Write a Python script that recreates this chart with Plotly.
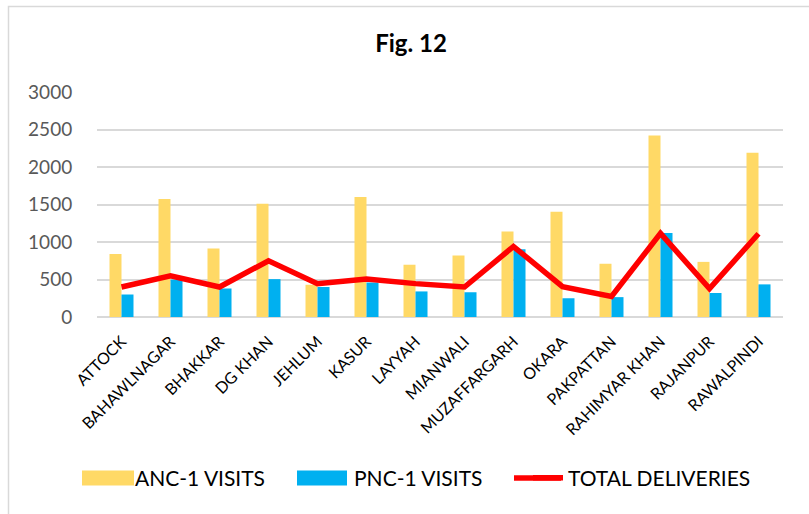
import plotly.graph_objects as go

districts = ["ATTOCK", "BAHAWLNAGAR", "BHAKKAR", "DG KHAN", "JEHLUM", "KASUR", "LAYYAH",
             "MIANWALI", "MUZAFFARGARH", "OKARA", "PAKPATTAN", "RAHIMYAR KHAN", "RAJANPUR", "RAWALPINDI"]
anc1_visits = [840, 1575, 915, 1510, 430, 1600, 697, 820, 1140, 1405, 710, 2420, 735, 2190]
pnc1_visits = [300, 500, 380, 505, 400, 460, 341, 330, 905, 250, 265, 1120, 320, 435]
total_deliveries = [400, 550, 400, 750, 443, 505, 445, 400, 940, 405, 275, 1115, 380, 1110]
y_ticks = [0, 500, 1000, 1500, 2000, 2500, 3000]

FONT = "Lato"
ANC_COLOR = "#FFD966"
PNC_COLOR = "#00B0F0"
LINE_COLOR = "#FF0000"

fig = go.Figure()
fig.add_trace(go.Bar(x=districts, y=anc1_visits, name="ANC-1 VISITS", marker_color=ANC_COLOR,
                     marker_line_width=0, legend="legend"))
fig.add_trace(go.Bar(x=districts, y=pnc1_visits, name="PNC-1 VISITS", marker_color=PNC_COLOR,
                     marker_line_width=0, legend="legend2"))
fig.add_trace(go.Scatter(x=districts, y=total_deliveries, name="TOTAL DELIVERIES", mode="lines",
                         line=dict(color=LINE_COLOR, width=5.5), legend="legend3"))

W, H = 809, 514
L, R, T, B = 97, 26, 92, 197
pw, ph = W - L - R, H - T - B


def px_x(px):
    return (px - L) / pw


def px_y(py):
    return (H - B - py) / ph


LEG_Y = 478
shapes = [
    dict(type="rect", xref="paper", yref="paper",
         x0=px_x(8.5), x1=px_x(W + 20), y0=px_y(6.5), y1=px_y(H + 20),
         line=dict(color="#D9D9D9", width=1.5), fillcolor="rgba(0,0,0,0)", layer="below"),
    # legend swatches (enlarged to match the reference key)
    dict(type="rect", xref="paper", yref="paper", x0=px_x(82), x1=px_x(134),
         y0=px_y(LEG_Y - 7.5), y1=px_y(LEG_Y + 7.5), line=dict(width=0), fillcolor=ANC_COLOR, layer="above"),
    dict(type="rect", xref="paper", yref="paper", x0=px_x(297), x1=px_x(347),
         y0=px_y(LEG_Y - 7.5), y1=px_y(LEG_Y + 7.5), line=dict(width=0), fillcolor=PNC_COLOR, layer="above"),
    dict(type="line", xref="paper", yref="paper", x0=px_x(514), x1=px_x(561),
         y0=px_y(LEG_Y), y1=px_y(LEG_Y), line=dict(color=LINE_COLOR, width=5.5), layer="above"),
]


def legend_at(text_start_px):
    return dict(orientation="h", xref="container", yref="container",
                x=(text_start_px - 41) / W, xanchor="left", y=1 - LEG_Y / H, yanchor="middle",
                font=dict(family=FONT, size=21, color="#000000"), bgcolor="rgba(0,0,0,0)")


fig.update_layout(
    width=W, height=H,
    margin=dict(l=L, r=R, t=T, b=B, autoexpand=False),
    paper_bgcolor="white", plot_bgcolor="white",
    barmode="group", bargap=0.51, bargroupgap=0,
    font=dict(family=FONT, color="#000000"),
    title=dict(text="<b>Fig. 12</b>", x=411 / W, xanchor="center", y=1 - 44 / H, yanchor="middle",
               font=dict(family=FONT, size=24, color="#000000")),
    legend=legend_at(136),
    legend2=legend_at(355),
    legend3=legend_at(569),
    showlegend=True,
    xaxis=dict(tickangle=-45, tickfont=dict(family=FONT, size=16, color="#000000"), showgrid=False,
               showline=False, ticks="outside", ticklen=8, tickcolor="rgba(0,0,0,0)", automargin=False),
    yaxis=dict(range=[0, 3000], tickvals=y_ticks, tickfont=dict(family=FONT, size=19, color="#595959"),
               showgrid=True, gridcolor="#D9D9D9", gridwidth=1.5, zeroline=True, zerolinecolor="#D9D9D9",
               zerolinewidth=1.5, showline=False, ticks="outside", ticklen=20,
               tickcolor="rgba(0,0,0,0)", automargin=False),
    shapes=shapes,
)

fig.write_html("out.html", config={"displayModeBar": False},
               post_script="document.body.style.margin='0px';")
